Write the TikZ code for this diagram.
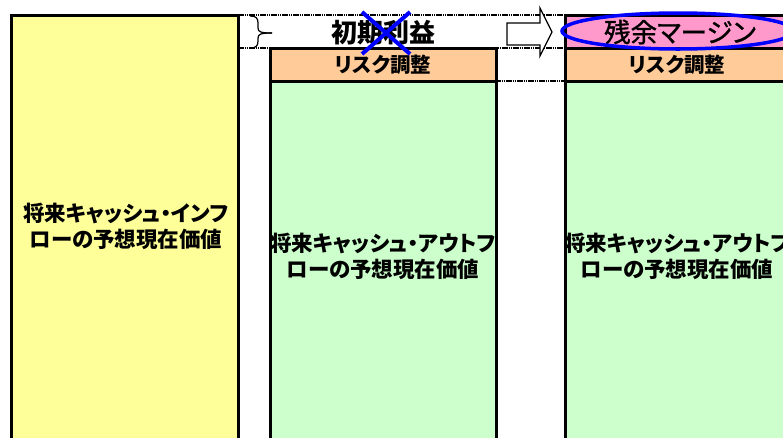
\documentclass[tikz,border=0pt]{standalone}
\usepackage{fontspec}
\newfontfamily\jp{Noto Sans CJK JP}[RawFeature=+palt]
\newfontfamily\jpm{Noto Sans CJK JP}[RawFeature=+palt,FakeBold=1.2]
\definecolor{yellowc}{HTML}{FFFF99}
\definecolor{greenc}{HTML}{CCFFCC}
\definecolor{orangec}{HTML}{FFCC99}
\definecolor{pinkc}{HTML}{FF99CC}
\definecolor{bluec}{HTML}{0000FF}
\begin{document}
\begin{tikzpicture}[x=1pt,y=-1pt,
  box/.style={draw=black,line width=3pt},
  dotline/.style={draw=black,line width=2.5pt,dash pattern=on 1.5pt off 0.7pt},
  maintext/.style={font=\jp\bfseries\fontsize{21.5}{26}\selectfont,align=center,inner sep=0pt},
  hdr/.style={font=\jp\bfseries\fontsize{20.5}{22}\selectfont,inner sep=0pt},
  titletext/.style={font=\jp\bfseries\fontsize{26}{28}\selectfont,inner sep=0pt},
  margintext/.style={font=\jpm\fontsize{26.5}{28}\selectfont,inner sep=0pt},
  crossline/.style={draw=bluec,line width=4pt}
]
\useasboundingbox (0,0) rectangle (783,437);
\clip (0,0) rectangle (783,437);
\fill[white] (0,0) rectangle (783,437);
% dotted guide lines
\draw[dotline] (238,15) -- (565,15);
\draw[dotline] (238,48) -- (565,48);
\draw[dotline] (495,81) -- (565,81);
% left column
\draw[box,fill=yellowc] (11,15) rectangle (238,450);
% middle column
\draw[box,fill=greenc] (270,81) rectangle (496,450);
\draw[box,fill=orangec] (270,48) rectangle (496,81);
% right column
\draw[box,fill=greenc] (565,81) rectangle (790,450);
\draw[box,fill=orangec] (565,48) rectangle (790,81);
\draw[box,fill=pinkc] (565,15) rectangle (790,48);
% texts
\node[maintext] (inflow) at (126,226) {将来キャッシュ・インフ\\ローの予想現在価値};
\node[maintext] (outflowA) at (383,256) {将来キャッシュ・アウトフ\\ローの予想現在価値};
\node[maintext] (outflowB) at (677,256) {将来キャッシュ・アウトフ\\ローの予想現在価値};
\node[hdr] (riskA) at (383,65) {リスク調整};
\node[hdr] (riskB) at (677,65) {リスク調整};
\node[titletext] (profit) at (383,33) {初期利益};
\node[margintext] (margin) at (680,32) {残余マージン};
% brace
\draw[line width=1.2pt] (250,16) .. controls (256,16) and (258,18) .. (258,23) -- (258,28) .. controls (258,32) and (261,33) .. (272,33);
\draw[line width=1.2pt] (250,48) .. controls (256,48) and (258,46) .. (258,41) -- (258,38) .. controls (258,34) and (261,33) .. (272,33);
% block arrow
\draw[line width=1.2pt,fill=white] (507,23) -- (540,23) -- (540,8) -- (552,32) -- (540,56) -- (540,45) -- (507,45) -- cycle;
% blue cross over initial profit
\draw[crossline] (362,12) -- (410,54);
\draw[crossline] (362,54) -- (410,12);
% blue ellipse around residual margin
\draw[draw=bluec,line width=3.5pt] (678,31) ellipse [x radius=116pt, y radius=18pt];
\end{tikzpicture}
\end{document}
